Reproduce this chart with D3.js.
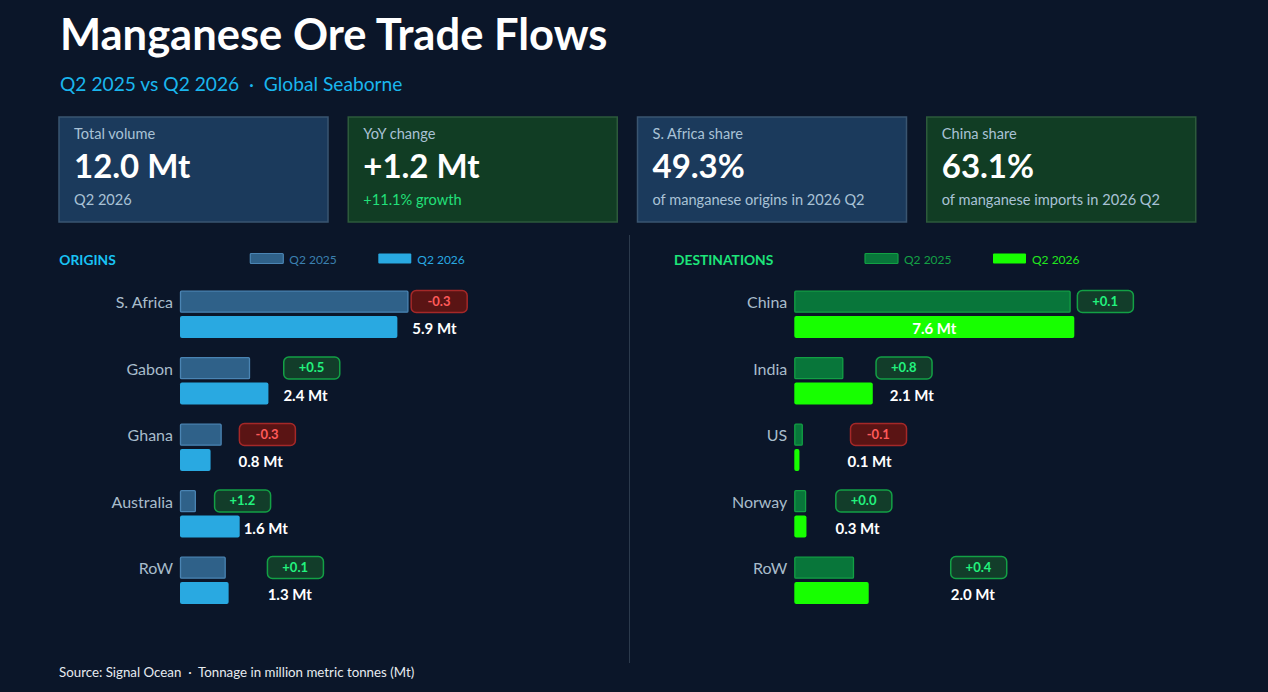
<!DOCTYPE html>
<html>
<head>
<meta charset="utf-8">
<script src="https://cdn.jsdelivr.net/npm/d3@7"></script>
<style>
  html, body { margin: 0; padding: 0; background: #0b1629; }
  svg { display: block; font-family: Lato, "Noto Sans", sans-serif; }
  svg text { white-space: pre; }
</style>
</head>
<body>
<svg id="chart" width="1268" height="692"></svg>
<script>
// data
const originCats = ["S. Africa", "Gabon", "Ghana", "Australia", "RoW"];
const origin2025 = [6.2, 1.9, 1.13, 0.43, 1.24];
const origin2026 = [5.9, 2.4, 0.83, 1.62, 1.32];

const destCats = ["China", "India", "US", "Norway", "RoW"];
const dest2025 = [7.5, 1.33, 0.23, 0.32, 1.62];
const dest2026 = [7.6, 2.13, 0.14, 0.33, 2.02];

const kpiLabels = ["Total volume", "YoY change", "S. Africa share", "China share"];
const kpiValues = ["12.0 Mt", "+1.2 Mt", "49.3%", "63.1%"];
const kpiNotes = ["Q2 2026", "+11.1% growth", "of manganese origins in 2026 Q2", "of manganese imports in 2026 Q2"];
const seriesNames = ["Q2 2025", "Q2 2026"];

// label nudges (px) – where the badges / value labels sit past the bar ends
const originBadgeNudge = [2, 33, 17, 18, 41];
const originLabelNudge = [15, 15, 28, 4, 39];
const destBadgeNudge = [6, 32, 47, 29, 96];
const destLabelNudge = [0, 17, 48, 29, 82];

const svg = d3.select("#chart");
svg.append("rect").attr("width", 1268).attr("height", 692).attr("fill", "#0b1629");

// title
svg.append("text").attr("x", 60).attr("y", 50)
    .attr("fill", "#ffffff").attr("font-size", 43.5).attr("font-weight", 700)
    .text("Manganese Ore Trade Flows");
svg.append("text").attr("x", 60).attr("y", 91)
    .attr("fill", "#1ab6ee").attr("font-size", 19.2)
    .text("Q2 2025 vs Q2 2026  ·  Global Seaborne");

// kpi cards
const cardX = d3.scaleBand().domain(d3.range(4)).range([59, 1196 + 20]).paddingInner(0);
const cardW = 269;
const cardStyle = [
    { fill: "#1b3a5c", stroke: "#3a5570", note: "#a9c2d6" },
    { fill: "#113d24", stroke: "#2d5a3b", note: "#22e07a" },
    { fill: "#1b3a5c", stroke: "#3a5570", note: "#a9c2d6" },
    { fill: "#113d24", stroke: "#2d5a3b", note: "#a9c2d6" }
];
const cards = svg.selectAll("g.card")
    .data(kpiLabels)
    .enter()
    .append("g")
    .attr("class", "card")
    .attr("transform", (d, i) => `translate(${cardX(i)},117)`);

cards.append("rect")
    .attr("width", cardW).attr("height", 105)
    .attr("fill", (d, i) => cardStyle[i].fill)
    .attr("stroke", (d, i) => cardStyle[i].stroke)
    .attr("stroke-width", 1.5);
cards.append("text").attr("x", 15).attr("y", 22)
    .attr("fill", "#a9c2d6").attr("font-size", 14.6)
    .text(d => d);
cards.append("text").attr("x", 15).attr("y", 61)
    .attr("fill", "#ffffff").attr("font-size", 33).attr("font-weight", 700)
    .text((d, i) => kpiValues[i]);
cards.append("text").attr("x", 15).attr("y", 88)
    .attr("fill", (d, i) => cardStyle[i].note).attr("font-size", 14.6)
    .text((d, i) => kpiNotes[i]);

// divider
svg.append("line")
    .attr("x1", 629.5).attr("x2", 629.5).attr("y1", 235).attr("y2", 663)
    .attr("stroke", "#2c3a4c").attr("stroke-width", 1);

// shared value scale
const x = d3.scaleLinear()
    .domain([0, d3.max(origin2025.concat(origin2026, dest2025, dest2026))])
    .range([0, 280]);

const fmtDelta = v => d3.format("+.1f")(v).replace("−", "-");
const fmtVal = v => d3.format(".1f")(v) + " Mt";

function drawPanel(cfg) {
    const g = svg.append("g");

    g.append("text").attr("x", cfg.titleX).attr("y", 265)
        .attr("fill", cfg.titleColor).attr("font-size", 13.8).attr("font-weight", 700)
        .text(cfg.title);

    // legend
    const leg = g.selectAll("g.leg")
        .data(seriesNames)
        .enter()
        .append("g")
        .attr("transform", (d, i) => `translate(${cfg.titleX + 191 + i * 128},253.5)`);
    leg.append("rect")
        .attr("width", 33).attr("height", 10).attr("rx", 1)
        .attr("fill", (d, i) => i === 0 ? cfg.fill25 : cfg.fill26)
        .attr("stroke", (d, i) => i === 0 ? cfg.stroke25 : "none")
        .attr("stroke-width", 1.2);
    leg.append("text").attr("x", 39).attr("y", 10.5)
        .attr("fill", (d, i) => cfg.legendText[i]).attr("font-size", 12)
        .text(d => d);

    const y = d3.scaleBand()
        .domain(cfg.cats)
        .range([290.7, 290.7 + cfg.cats.length * 66.5]);

    const rows = g.selectAll("g.row")
        .data(cfg.cats.map((c, i) => ({ c, i, v25: cfg.v25[i], v26: cfg.v26[i] })))
        .enter()
        .append("g")
        .attr("transform", d => `translate(0,${y(d.c)})`);

    rows.append("text")
        .attr("x", cfg.barX - 7).attr("y", 17.5)
        .attr("text-anchor", "end")
        .attr("fill", "#a8bccb").attr("font-size", 16)
        .text(d => d.c);

    rows.append("rect")
        .attr("x", cfg.barX + 0.5).attr("y", 0.5)
        .attr("width", d => Math.max(0, x(d.v25) - 1)).attr("height", 21)
        .attr("fill", cfg.fill25).attr("stroke", cfg.stroke25).attr("stroke-width", 1.3)
        .attr("rx", 1);

    rows.append("rect")
        .attr("x", cfg.barX).attr("y", 25.3)
        .attr("width", d => x(d.v26)).attr("height", 22)
        .attr("fill", cfg.fill26).attr("rx", 2);

    // delta badges
    const badge = rows.append("g")
        .attr("transform", d => `translate(${cfg.barX + x(d.v25) + cfg.badgeNudge[d.i]},-1)`);
    badge.append("rect")
        .attr("x", 0.75).attr("y", 0.75)
        .attr("width", 56).attr("height", 22).attr("rx", 5)
        .attr("fill", d => d.v26 - d.v25 < -0.005 ? "#5a1414" : "#123d2a")
        .attr("stroke", d => d.v26 - d.v25 < -0.005 ? "#a52828" : "#13a045")
        .attr("stroke-width", 1.5);
    badge.append("text")
        .attr("x", 28.5).attr("y", 16.3)
        .attr("text-anchor", "middle")
        .attr("fill", d => d.v26 - d.v25 < -0.005 ? "#ff5a5a" : "#22f27e")
        .attr("font-size", 13).attr("font-weight", 700)
        .text(d => fmtDelta(d.v26 - d.v25));

    // value labels
    rows.append("text")
        .attr("x", d => x(d.v26) > 250 ? cfg.barX + x(d.v26) / 2 : cfg.barX + x(d.v26) + cfg.labelNudge[d.i])
        .attr("y", 43.6)
        .attr("text-anchor", d => x(d.v26) > 250 ? "middle" : "start")
        .attr("fill", "#ffffff").attr("font-size", 15).attr("font-weight", 700)
        .text(d => fmtVal(d.v26));
}

drawPanel({
    title: "ORIGINS", titleX: 59.3, titleColor: "#19c3f5",
    cats: originCats, v25: origin2025, v26: origin2026,
    barX: 180,
    fill25: "#2f6189", stroke25: "#4a84b3", fill26: "#29a9e1",
    legendText: ["#3b80b0", "#29a9e1"],
    badgeNudge: originBadgeNudge, labelNudge: originLabelNudge
});

drawPanel({
    title: "DESTINATIONS", titleX: 674, titleColor: "#1de57a",
    cats: destCats, v25: dest2025, v26: dest2026,
    barX: 794.3,
    fill25: "#08763a", stroke25: "#12a044", fill26: "#17ff00",
    legendText: ["#14a045", "#22e81e"],
    badgeNudge: destBadgeNudge, labelNudge: destLabelNudge
});

// footer
svg.append("text").attr("x", 59).attr("y", 677)
    .attr("fill", "#e6ebf0").attr("font-size", 13.3)
    .text("Source: Signal Ocean  ·  Tonnage in million metric tonnes (Mt)");
</script>
</body>
</html>
